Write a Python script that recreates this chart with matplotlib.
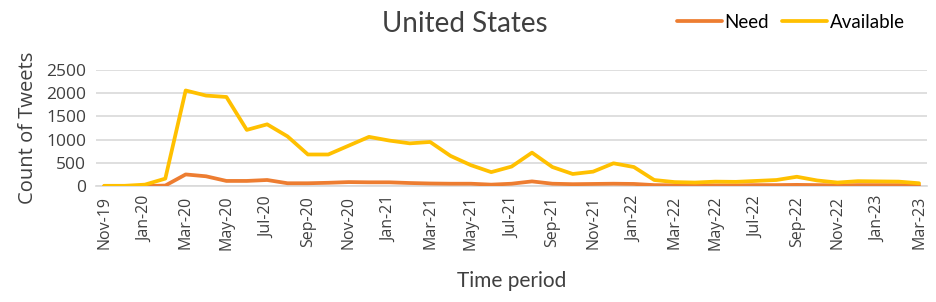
import numpy as np
import matplotlib
matplotlib.use("Agg")
import matplotlib.pyplot as plt

# monthly periods, Nov-19 .. Mar-23
months = ["Nov-19", "Dec-19", "Jan-20", "Feb-20", "Mar-20", "Apr-20", "May-20",
          "Jun-20", "Jul-20", "Aug-20", "Sep-20", "Oct-20", "Nov-20", "Dec-20",
          "Jan-21", "Feb-21", "Mar-21", "Apr-21", "May-21", "Jun-21", "Jul-21",
          "Aug-21", "Sep-21", "Oct-21", "Nov-21", "Dec-21", "Jan-22", "Feb-22",
          "Mar-22", "Apr-22", "May-22", "Jun-22", "Jul-22", "Aug-22", "Sep-22",
          "Oct-22", "Nov-22", "Dec-22", "Jan-23", "Feb-23", "Mar-23"]

need = [0, 0, 0, 10, 250, 210, 110, 110, 130, 60, 60, 70, 85, 80,
        80, 65, 55, 50, 50, 30, 50, 100, 50, 40, 45, 50, 45, 20,
        15, 15, 15, 15, 20, 20, 25, 20, 15, 20, 20, 20, 15]

available = [5, 5, 30, 160, 2060, 1950, 1920, 1210, 1330, 1070, 680, 680, 870, 1060,
             980, 920, 950, 650, 450, 300, 420, 720, 410, 260, 310, 490, 410, 130,
             85, 75, 95, 90, 110, 130, 200, 120, 75, 105, 100, 95, 60]

yticks = [0, 500, 1000, 1500, 2000, 2500]

fig = plt.figure(figsize=(9.36, 3.02), dpi=100)
ax = fig.add_axes([0.1026, 0.384, 0.888, 0.384])

x = np.arange(len(months))
ax.plot(x, need, color="#ED7D31", lw=2.7, label="Need", solid_capstyle="round", zorder=3)
ax.plot(x, available, color="#FFC000", lw=2.7, label="Available", solid_capstyle="round", zorder=3)

ax.set_xlim(-0.4, len(months) - 0.6)
ax.set_ylim(0, 2500)
ax.set_yticks(yticks)
ax.set_yticklabels([str(v) for v in yticks], fontsize=12.5, color="#404040", family="Open Sans")
ax.set_xticks(x[::2])
ax.set_xticklabels(months[::2], rotation=90, fontsize=11.5, color="#404040", family="Open Sans")
ax.tick_params(length=0, pad=7)

ax.grid(axis="y", color="#d9d9d9", lw=1.2)
ax.set_axisbelow(True)
for s in ["top", "right", "left"]:
    ax.spines[s].set_visible(False)
ax.spines["bottom"].set_color("#d9d9d9")
ax.spines["bottom"].set_linewidth(1.2)

ax.set_ylabel("Count of Tweets", fontsize=14.5, color="#404040", family="Open Sans", labelpad=6)
ax.set_xlabel("Time period", fontsize=15, color="#404040", family="Lato", labelpad=15)
fig.text(0.497, 0.92, "United States", ha="center", va="center", fontsize=20,
         color="#404040", family="Lato")

ax.legend(loc="upper left", bbox_to_anchor=(0.705, 1.01), bbox_transform=fig.transFigure,
          ncol=2, frameon=False, handlelength=2.4, handletextpad=0.15,
          columnspacing=0.7, prop={"family": "Lato", "size": 13.5})

fig.savefig("out.png", dpi=100)
